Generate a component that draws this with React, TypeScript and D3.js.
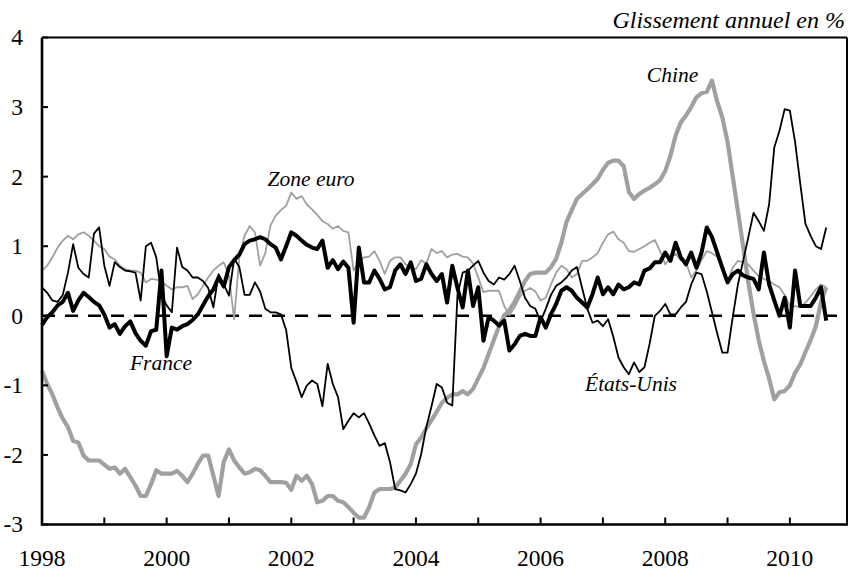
import React from "react";
import * as d3 from "d3";

// Monthly series, Jan 1998 (index 0) to Aug 2010 (index 151)
const france: number[] = [
  -0.13, -0.02, 0.05, 0.15, 0.2, 0.33, 0.07, 0.22, 0.33, 0.27, 0.2, 0.15,
  0.02, -0.17, -0.12, -0.26, -0.15, -0.08, -0.25, -0.36, -0.43, -0.22, -0.2, 0.65,
  -0.58, -0.17, -0.2, -0.15, -0.12, -0.06, 0.02, 0.15, 0.28, 0.38, 0.55, 0.42,
  0.7, 0.8, 0.88, 1.03, 1.08, 1.1, 1.13, 1.1, 1.03, 0.98, 0.81, 1.0,
  1.2, 1.15, 1.08, 1.02, 0.98, 0.96, 1.08, 0.69, 0.8, 0.67, 0.78, 0.69,
  -0.1, 0.98, 0.48, 0.48, 0.65, 0.53, 0.38, 0.41, 0.65, 0.74, 0.6, 0.77,
  0.5, 0.53, 0.74, 0.6, 0.5, 0.6, 0.19, 0.72, 0.4, 0.12, 0.65, 0.14,
  0.41, -0.36, -0.02, -0.07, -0.14, -0.07, -0.5, -0.41, -0.29, -0.26, -0.29, -0.29,
  -0.02, -0.17, 0.02, 0.17, 0.36, 0.41, 0.36, 0.26, 0.19, 0.12, 0.31, 0.55,
  0.31, 0.41, 0.31, 0.45, 0.38, 0.41, 0.48, 0.45, 0.65, 0.68, 0.77, 0.77,
  0.91, 0.79, 1.05, 0.84, 0.74, 0.91, 0.69, 0.91, 1.27, 1.13, 0.91, 0.69,
  0.48, 0.6, 0.65, 0.58, 0.55, 0.53, 0.38, 0.91, 0.45, 0.22, 0.0, 0.26,
  -0.17, 0.65, 0.14, 0.14, 0.14, 0.26, 0.41, -0.07,
];

const zoneEuro: number[] = [
  0.65, 0.72, 0.84, 0.98, 1.08, 1.15, 1.1, 1.17, 1.2, 1.15, 1.08, 1.0,
  0.96, 0.85, 0.81, 0.72, 0.67, 0.65, 0.65, 0.62, 0.48, 0.53, 0.52, 0.5,
  0.43, 0.38, 0.41, 0.41, 0.43, 0.24, 0.31, 0.43, 0.55, 0.65, 0.72, 0.77,
  0.57, -0.05, 0.84, 1.15, 1.29, 1.2, 0.72, 0.9, 1.3, 1.44, 1.52, 1.58,
  1.77, 1.68, 1.72, 1.6, 1.53, 1.45, 1.36, 1.32, 1.25, 1.29, 1.22, 1.2,
  0.65, 0.77, 0.84, 0.85, 0.93, 0.79, 0.6, 0.79, 0.84, 0.84, 0.74, 0.7,
  0.67, 0.8, 0.75, 0.96, 0.9, 0.93, 0.84, 0.88, 0.89, 0.85, 0.84, 0.75,
  0.55, 0.34, 0.36, 0.36, 0.36, 0.14, 0.01, 0.12, 0.27, 0.36, 0.4, 0.35,
  0.22, 0.26, 0.45, 0.62, 0.72, 0.67, 0.55, 0.6, 0.79, 0.79, 0.84, 0.9,
  1.05, 1.17, 1.21, 1.1, 1.05, 0.93, 0.92, 0.96, 1.0, 1.05, 1.09, 0.93,
  0.74, 0.84, 0.89, 0.8, 0.77, 0.55, 0.65, 0.8, 0.93, 0.9, 0.85, 0.69,
  0.5, 0.69, 0.79, 0.77, 0.74, 0.65, 0.57, 0.53, 0.5, 0.45, 0.41, 0.3,
  0.14, 0.14, 0.12, 0.19, 0.28, 0.38, 0.45, 0.41,
];

const etatsUnis: number[] = [
  0.41, 0.33, 0.22, 0.2, 0.3, 0.62, 1.03, 0.69, 0.6, 0.55, 1.18, 1.27,
  0.72, 0.43, 0.77, 0.7, 0.65, 0.64, 0.62, 0.22, 1.0, 1.05, 0.84, 0.3,
  0.15, 0.05, 0.98, 0.7, 0.65, 0.55, 0.55, 0.5, 0.4, 0.12, 0.6, 0.45,
  0.29, 0.82, 0.7, 0.3, 0.3, 0.48, 0.35, 0.1, 0.05, 0.05, 0.02, -0.2,
  -0.75, -0.95, -1.17, -1.0, -0.93, -0.98, -1.3, -0.69, -0.98, -1.17, -1.63, -1.51,
  -1.4, -1.46, -1.4, -1.55, -1.72, -1.87, -1.83, -2.1, -2.49, -2.51, -2.54, -2.42,
  -2.27, -1.99, -1.6, -1.3, -0.98, -1.03, -1.25, -1.29, 0.3, 0.62, 0.65, 0.72,
  0.79, 0.62, 0.5, 0.45, 0.55, 0.52, 0.6, 0.72, 0.5, 0.26, 0.14, 0.1,
  -0.08, 0.1, 0.3, 0.43, 0.48, 0.55, 0.65, 0.7, 0.4, 0.1, -0.1, -0.07,
  -0.15, -0.05, -0.3, -0.6, -0.74, -0.84, -0.67, -0.81, -0.74, -0.4, 0.0, 0.07,
  0.17, 0.02, 0.02, 0.12, 0.2, 0.45, 0.62, 0.6, 0.35, 0.05, -0.25, -0.53,
  -0.53, -0.02, 0.45, 0.79, 1.13, 1.48, 1.36, 1.22, 1.6, 2.42, 2.66, 2.97,
  2.95, 2.5, 1.9, 1.32, 1.15, 1.0, 0.96, 1.27,
];

const chine: number[] = [
  -0.79, -0.98, -1.13, -1.32, -1.48, -1.6, -1.8, -1.82, -2.01, -2.08, -2.08, -2.08,
  -2.14, -2.2, -2.18, -2.27, -2.2, -2.32, -2.44, -2.59, -2.59, -2.42, -2.22, -2.27,
  -2.27, -2.27, -2.23, -2.3, -2.39, -2.27, -2.13, -2.01, -2.01, -2.3, -2.59, -2.1,
  -1.92, -2.08, -2.18, -2.27, -2.25, -2.2, -2.22, -2.3, -2.39, -2.39, -2.39, -2.4,
  -2.5, -2.3, -2.37, -2.3, -2.42, -2.68, -2.66, -2.59, -2.59, -2.66, -2.68, -2.75,
  -2.83, -2.9, -2.9, -2.75, -2.54, -2.49, -2.49, -2.49, -2.47, -2.37, -2.27, -2.13,
  -1.85, -1.75, -1.62, -1.5, -1.38, -1.25, -1.18, -1.13, -1.13, -1.08, -1.13, -1.05,
  -0.9, -0.75, -0.55, -0.35, -0.15, 0.0, 0.08, 0.2, 0.35, 0.5, 0.6, 0.62,
  0.62, 0.62, 0.7, 0.82, 1.05, 1.35, 1.52, 1.68, 1.75, 1.82, 1.89, 1.97,
  2.1, 2.2, 2.23, 2.23, 2.15, 1.78, 1.68, 1.75, 1.8, 1.84, 1.89, 1.95,
  2.08, 2.3, 2.59, 2.78, 2.88, 3.0, 3.14, 3.2, 3.22, 3.38, 3.08, 2.85,
  2.5, 2.0, 1.5, 1.0, 0.48, 0.03, -0.35, -0.65, -0.9, -1.2, -1.1, -1.08,
  -1.0, -0.82, -0.7, -0.52, -0.35, -0.15, 0.2, 0.41,
];

const yTicks: number[] = [-3, -2, -1, 0, 1, 2, 3, 4];
const yearTicks: number[] = [1998, 1999, 2000, 2001, 2002, 2003, 2004, 2005, 2006, 2007, 2008, 2009, 2010];
const yearLabels: number[] = [1998, 2000, 2002, 2004, 2006, 2008, 2010];

const titleText = "Glissement annuel en %";

const W = 851;
const H = 572;
const left = 42;
const right = 847;
const top = 37.5;
const bottom = 524.5;

const FONT = '"Liberation Serif", "Times New Roman", Times, serif';
const GREY = "#a0a0a0";

export default function App() {
  const x = d3.scaleLinear().domain([0, 155]).range([left, right]);
  const y = d3.scaleLinear().domain([-3, 4]).range([bottom, top]);
  const monthOfYear = (yr: number) => (yr - 1998) * 12;

  const line = d3
    .line<number>()
    .x((_, i) => x(i))
    .y((d) => y(d));

  const txt = { fontFamily: FONT };
  const itx = { fontFamily: FONT, fontStyle: "italic" as const };

  return (
    <svg
      width={W}
      height={H}
      style={{ position: "absolute", left: 0, top: 0, background: "#fff" }}
    >
      {/* zero line */}
      <line
        x1={left}
        x2={right}
        y1={y(0)}
        y2={y(0)}
        stroke="#000"
        strokeWidth={2.5}
        strokeDasharray="13 10"
      />

      {/* series */}
      <path d={line(chine) || ""} fill="none" stroke={GREY} strokeWidth={4.2} strokeLinejoin="round" />
      <path d={line(zoneEuro) || ""} fill="none" stroke={GREY} strokeWidth={1.8} strokeLinejoin="round" />
      <path d={line(etatsUnis) || ""} fill="none" stroke="#000" strokeWidth={1.8} strokeLinejoin="round" />
      <path d={line(france) || ""} fill="none" stroke="#000" strokeWidth={4} strokeLinejoin="round" />

      {/* frame */}
      <line x1={left} x2={right} y1={top} y2={top} stroke="#000" strokeWidth={2} />
      <line x1={right} x2={right} y1={top} y2={bottom} stroke="#000" strokeWidth={2} />
      <line x1={left} x2={left} y1={top} y2={bottom + 1} stroke="#000" strokeWidth={2.6} />
      <line x1={left - 1} x2={right + 1} y1={bottom} y2={bottom} stroke="#000" strokeWidth={2.6} />

      {/* y ticks */}
      {yTicks.map((t) => (
        <g key={"y" + t}>
          <line x1={left} x2={left + 6} y1={y(t)} y2={y(t)} stroke="#000" strokeWidth={2} />
          <text x={23} y={y(t)} dy="0.34em" textAnchor="end" fontSize={23.5} style={txt}>
            {t}
          </text>
        </g>
      ))}

      {/* x ticks */}
      {yearTicks.map((yr) => (
        <line
          key={"xt" + yr}
          x1={x(monthOfYear(yr))}
          x2={x(monthOfYear(yr))}
          y1={bottom}
          y2={bottom - 7}
          stroke="#000"
          strokeWidth={2}
        />
      ))}
      {yearLabels.map((yr) => (
        <text key={"xl" + yr} x={x(monthOfYear(yr))} y={566} textAnchor="middle" fontSize={23.5} style={txt}>
          {yr}
        </text>
      ))}

      {/* title */}
      <text x={845} y={28} textAnchor="end" fontSize={24} style={itx}>
        {titleText}
      </text>

      {/* series labels */}
      <text x={161} y={369.5} textAnchor="middle" fontSize={21.5} style={itx}>France</text>
      <text x={311} y={186} textAnchor="middle" fontSize={21.5} style={itx}>Zone euro</text>
      <text x={631} y={391} textAnchor="middle" fontSize={21.5} style={itx}>États-Unis</text>
      <text x={672.5} y={81.5} textAnchor="middle" fontSize={21.5} style={itx}>Chine</text>
    </svg>
  );
}
